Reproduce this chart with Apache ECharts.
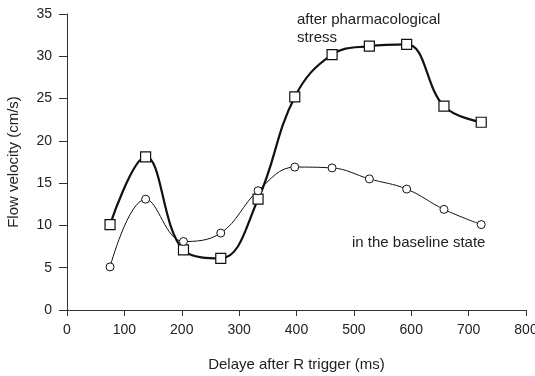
<!DOCTYPE html>
<html><head><meta charset="utf-8">
<script src="https://cdn.jsdelivr.net/npm/echarts@6/dist/echarts.min.js"></script>
<style>html,body{margin:0;padding:0;background:#fff}#c{width:535px;height:376px}</style>
</head><body><div id="c"></div>
<script>
const delays = [75, 137, 203, 268, 333, 397, 462, 527, 592, 657, 722];
const stress = [10.1, 18.1, 7.1, 6.1, 13.1, 25.2, 30.2, 31.2, 31.4, 24.1, 22.2];
const baseline = [5.1, 13.1, 8.1, 9.1, 14.1, 16.9, 16.8, 15.5, 14.3, 11.9, 10.1];
const xTicks = [0, 100, 200, 300, 400, 500, 600, 700, 800];
const yTicks = [0, 5, 10, 15, 20, 25, 30, 35];

const font = 'Liberation Sans, Arial, sans-serif';
const chart = echarts.init(document.getElementById('c'));
chart.setOption({
  animation: false,
  grid: {left: 67, right: 9, top: 14, bottom: 66, containLabel: false, outerBoundsMode: 'none'},
  xAxis: {
    type: 'value', min: xTicks[0], max: xTicks[xTicks.length - 1], interval: 100,
    name: 'Delaye after R trigger (ms)', nameLocation: 'middle', nameGap: 47,
    nameTextStyle: {color: '#222', fontFamily: font, fontSize: 15},
    axisLine: {show: true, lineStyle: {color: '#333', width: 1}},
    axisTick: {show: true, inside: false, length: 6, lineStyle: {color: '#333'}},
    splitLine: {show: false},
    axisLabel: {color: '#222', fontFamily: font, fontSize: 14, margin: 13}
  },
  yAxis: {
    type: 'value', min: yTicks[0], max: yTicks[yTicks.length - 1], interval: 5,
    name: 'Flow velocity (cm/s)', nameLocation: 'middle', nameGap: 46,
    nameTextStyle: {color: '#222', fontFamily: font, fontSize: 15},
    axisLine: {show: true, lineStyle: {color: '#333', width: 1}},
    axisTick: {show: true, inside: false, length: 8, lineStyle: {color: '#333'}},
    splitLine: {show: false},
    axisLabel: {color: '#222', fontFamily: font, fontSize: 14, margin: 15}
  },
  series: [
    {
      type: 'line', smooth: 0.4,
      data: delays.map((d, i) => [d, stress[i]]),
      symbol: 'rect', symbolSize: 10,
      lineStyle: {color: '#111', width: 2.2},
      itemStyle: {color: '#fff', borderColor: '#111', borderWidth: 1.2}
    },
    {
      type: 'line', smooth: 0.4,
      data: delays.map((d, i) => [d, baseline[i]]),
      symbol: 'circle', symbolSize: 8,
      lineStyle: {color: '#111', width: 1},
      itemStyle: {color: '#fff', borderColor: '#111', borderWidth: 1}
    }
  ],
  graphic: [
    {type: 'text', left: 297, top: 11, style: {text: 'after pharmacological\nstress', font: '15px ' + font, fill: '#222', lineHeight: 18}},
    {type: 'text', left: 352, top: 235, style: {text: 'in the baseline state', font: '15px ' + font, fill: '#222'}}
  ]
});
</script>
</body></html>
